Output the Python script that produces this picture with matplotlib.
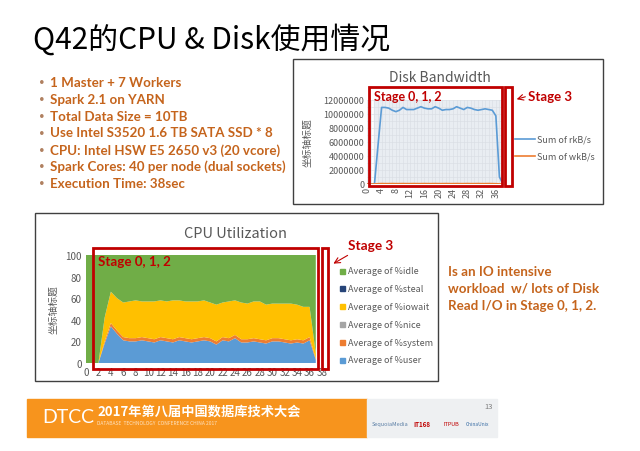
import numpy as np
import matplotlib
matplotlib.use('Agg')
from matplotlib import pyplot as plt
from matplotlib.patches import Rectangle

plt.rcParams['font.family'] = ['Noto Sans CJK SC', 'DejaVu Sans']

# ---- data ----
cpu_x = list(range(38))
cpu_user = [0, 0, 0, 18, 34, 27, 21, 20, 20, 21, 20, 19, 21, 20, 19, 21, 20, 19, 20, 21,
            20, 17, 21, 20, 23, 19, 19, 20, 19, 18, 20, 20, 19, 18, 19, 18, 21, 3]
cpu_system = [0, 0, 0, 2, 3, 3, 3, 3, 3, 3, 3, 3, 3, 3, 3, 3, 3, 3, 3, 3,
              3, 3, 3, 3, 3, 3, 3, 3, 3, 3, 3, 3, 3, 3, 3, 3, 3, 1]
cpu_nice = [0] * 38
cpu_iowait = [0, 0, 0, 22, 29, 30, 32, 34, 35, 33, 34, 35, 34, 34, 36, 34, 34, 35, 34, 34,
              33, 34, 32, 34, 32, 34, 33, 34, 35, 33, 32, 32, 33, 34, 32, 31, 28, 5]
cpu_steal = [0] * 38
cpu_idle = [100 - u - s - n - w - st for u, s, n, w, st in
            zip(cpu_user, cpu_system, cpu_nice, cpu_iowait, cpu_steal)]
cpu_labels = ['Average of %idle', 'Average of %steal', 'Average of %iowait',
              'Average of %nice', 'Average of %system', 'Average of %user']
cpu_colors = ['#70AD47', '#264478', '#FFC000', '#A5A5A5', '#ED7D31', '#5B9BD5']

disk_x = list(range(39))
disk_rkb = [0, 0, 0, 5.5e6, 10.9e6, 10.9e6, 10.8e6, 10.5e6, 10.3e6, 10.5e6, 10.9e6, 10.6e6,
            10.6e6, 10.6e6, 10.8e6, 11.0e6, 10.8e6, 10.7e6, 10.7e6, 11.0e6, 10.8e6, 10.5e6,
            10.6e6, 10.6e6, 10.7e6, 11.0e6, 10.8e6, 10.6e6, 10.9e6, 10.8e6, 10.6e6, 10.5e6,
            10.6e6, 10.7e6, 10.6e6, 10.5e6, 9.7e6, 1.0e6, 0]
disk_wkb = [0, 0, 0, 40000, 60000, 50000, 50000, 60000, 50000, 50000, 60000, 50000, 50000,
            60000, 50000, 50000, 60000, 50000, 50000, 60000, 50000, 50000, 60000, 50000,
            50000, 60000, 50000, 50000, 60000, 50000, 50000, 60000, 50000, 50000, 60000,
            50000, 40000, 10000, 0]
disk_yticks = [0, 2000000, 4000000, 6000000, 8000000, 10000000, 12000000]

bullets = ['1 Master + 7 Workers', 'Spark 2.1 on YARN', 'Total Data Size = 10TB',
           'Use Intel S3520 1.6 TB SATA SSD * 8', 'CPU: Intel HSW E5 2650 v3 (20 vcore)',
           'Spark Cores: 40 per node (dual sockets)', 'Execution Time: 38sec']
note_lines = ['Is an IO intensive', 'workload  w/ lots of Disk', 'Read I/O in Stage 0, 1, 2.']

W, H = 640, 452
ORANGE_TXT = '#C5641C'
RED = '#C00000'
GRAY = '#595959'
LATIN = ['Lato', 'DejaVu Sans']


def fbox(x0, y0, x1, y1):
    return [x0 / W, 1 - y1 / H, (x1 - x0) / W, (y1 - y0) / H]


fig = plt.figure(figsize=(6.4, 4.52), dpi=100)

# ---- disk bandwidth chart ----
ax_d = fig.add_axes(fbox(367.3, 100.7, 503, 185))
ax_d.axvspan(2, 37.6, color='#E9EDF2', zorder=0)
ax_d.set_xticks(np.arange(0, 39, 1), minor=True)
ax_d.set_yticks(np.arange(0, 12.1e6, 1e6), minor=True)
ax_d.grid(which='both', color='#D8DCE2', lw=0.4)
ax_d.plot(disk_x, disk_rkb, color='#5B9BD5', lw=1.2, zorder=3)
ax_d.plot(disk_x, disk_wkb, color='#ED7D31', lw=1.2, zorder=3)
ax_d.set_xlim(0, 38)
ax_d.set_ylim(0, 12000000)
ax_d.set_yticks(disk_yticks)
ax_d.set_yticklabels([str(v) for v in disk_yticks])
ax_d.set_xticks(np.arange(0, 37, 4))
ax_d.set_xticklabels([str(v) for v in range(0, 37, 4)], rotation=90)
ax_d.tick_params(labelsize=6.5, colors=GRAY, length=0, pad=2, which='both')
for s in ax_d.spines.values():
    s.set_visible(False)
ax_d.set_axisbelow(True)

# ---- cpu chart ----
ax_c = fig.add_axes(fbox(86, 256, 322, 364))
ax_c.stackplot(cpu_x, cpu_user, cpu_system, cpu_nice, cpu_iowait, cpu_steal, cpu_idle,
               colors=cpu_colors[::-1], lw=0)
ax_c.set_xlim(0, 38)
ax_c.set_ylim(0, 100)
ax_c.set_xticks(range(0, 39, 2))
ax_c.set_yticks(range(0, 101, 20))
ax_c.tick_params(labelsize=7, colors=GRAY, length=0, pad=3)
for s in ax_c.spines.values():
    s.set_visible(False)

# ---- slide overlay ----
ov = fig.add_axes([0, 0, 1, 1])
ov.set_xlim(0, W)
ov.set_ylim(H, 0)
ov.set_axis_off()

ov.text(33, 40, 'Q42的CPU & Disk使用情况', fontsize=21.5, va='center', color='black')

for i, b in enumerate(bullets):
    y = 83 + i * 16.8
    ov.text(39, y, '•', fontsize=7, color='#B08060', va='center', family=LATIN)
    ov.text(50, y, b, fontsize=9.6, color=ORANGE_TXT, fontweight='bold', va='center',
            family=LATIN)

for i, t in enumerate(note_lines):
    ov.text(448, 272 + i * 16.8, t, fontsize=9.6, color=ORANGE_TXT, fontweight='bold',
            va='center', family=LATIN)

# chart frames
ov.add_patch(Rectangle((293, 60), 310, 145, fill=False, ec='#404040', lw=1))
ov.add_patch(Rectangle((35, 214), 403, 168, fill=False, ec='#404040', lw=1))

ov.text(440, 78, 'Disk Bandwidth', fontsize=10, color=GRAY, ha='center', va='center')
ov.text(235, 234, 'CPU Utilization', fontsize=10.5, color=GRAY, ha='center', va='center')
ov.text(307, 143, '坐标轴标题', fontsize=7, color=GRAY, rotation=90, ha='center', va='center')
ov.text(53, 310, '坐标轴标题', fontsize=7, color=GRAY, rotation=90, ha='center', va='center')

# disk legend
ov.plot([515, 535], [140, 140], color='#5B9BD5', lw=1.2)
ov.text(537, 140, 'Sum of rkB/s', fontsize=6.5, color=GRAY, va='center')
ov.plot([515, 535], [157, 157], color='#ED7D31', lw=1.2)
ov.text(537, 157, 'Sum of wkB/s', fontsize=6.5, color=GRAY, va='center')

# cpu legend
for i, (lab, col) in enumerate(zip(cpu_labels, cpu_colors)):
    y = 272 + i * 17.8
    ov.add_patch(Rectangle((340, y - 2.5), 5, 5, color=col))
    ov.text(348, y, lab, fontsize=6.5, color=GRAY, va='center')

# stage boxes
lab_font = dict(color=RED, fontweight='bold', family=LATIN)
ov.add_patch(Rectangle((369, 88), 133, 99, fill=False, ec=RED, lw=2))
ov.add_patch(Rectangle((505, 88), 7, 99, fill=False, ec=RED, lw=2))
ov.text(374, 97, 'Stage 0, 1, 2', fontsize=9, va='center', **lab_font)
ov.text(528, 97, 'Stage 3', fontsize=9.5, va='center', **lab_font)
ov.annotate('', xy=(514, 101), xytext=(528, 97),
            arrowprops=dict(arrowstyle='->', color=RED, lw=0.8))

ov.add_patch(Rectangle((93, 249), 225, 121, fill=False, ec=RED, lw=2))
ov.add_patch(Rectangle((322, 249), 6, 121, fill=False, ec=RED, lw=2))
ov.text(98, 262, 'Stage 0, 1, 2', fontsize=9.6, va='center', **lab_font)
ov.text(348, 246, 'Stage 3', fontsize=9.8, va='center', **lab_font)
ov.annotate('', xy=(331, 266), xytext=(350, 255),
            arrowprops=dict(arrowstyle='->', color=RED, lw=0.8))

# footer
ov.add_patch(Rectangle((27, 400), 340, 38, color='#F7941D'))
ov.add_patch(Rectangle((367, 400), 130, 38, color='#EEF0F2'))
ov.text(42, 418, 'DTCC', fontsize=14, color='white', va='center', family=LATIN)
ov.text(97, 412, '2017年第八届中国数据库技术大会', fontsize=9.5, color='white',
        fontweight='bold', va='center')
ov.text(97, 424, 'DATABASE  TECHNOLOGY  CONFERENCE CHINA 2017', fontsize=3.5,
        color='#FDE3C4', va='center')
ov.text(493, 407, '13', fontsize=5.5, color='#7F7F7F', ha='right', va='center')
ov.text(372, 425, 'SequoiaMedia', fontsize=4, color='#5B7FA6', va='center')
ov.text(413, 425, 'IT168', fontsize=4.5, color='#C00000', fontweight='bold', va='center')
ov.text(443, 425, 'ITPUB', fontsize=4, color='#C00000', va='center')
ov.text(466, 425, 'ChinaUnix', fontsize=3.5, color='#3A6EA5', va='center')

fig.savefig('out.png', dpi=100)
